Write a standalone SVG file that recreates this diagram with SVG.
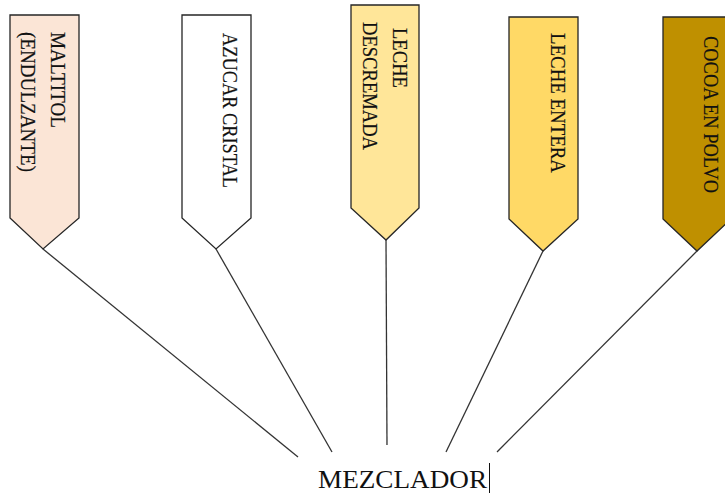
<svg xmlns="http://www.w3.org/2000/svg" width="725" height="494" viewBox="0 0 725 494">
  <style>
    .tag { stroke: #262626; stroke-width: 1.3; stroke-linejoin: miter; }
    .lbl { font-family: "Liberation Serif", "Times New Roman", serif; font-size: 22px; fill: #111111; stroke: #111111; stroke-width: 0.2; }
    .wire { stroke: #333333; stroke-width: 1.3; fill: none; }
  </style>
  <rect width="725" height="494" fill="#ffffff"/>

  <g id="maltitol">
    <polygon class="tag" fill="#FBE5D6" points="10,15 79,15 79,218 43,249 10,218"/>
    <text class="lbl" transform="translate(51,32) rotate(90)" textLength="96" lengthAdjust="spacingAndGlyphs">MALTITOL</text>
    <text class="lbl" transform="translate(21,32) rotate(90)" textLength="140" lengthAdjust="spacingAndGlyphs">(ENDULZANTE)</text>
  </g>

  <g id="azucar">
    <polygon class="tag" fill="#FFFFFF" points="182,15 251,15 251,218 216,249 182,218"/>
    <text class="lbl" transform="translate(223,33) rotate(90)" textLength="155" lengthAdjust="spacingAndGlyphs">AZUCAR CRISTAL</text>
  </g>

  <g id="leche-descremada">
    <polygon class="tag" fill="#FFE699" points="351,5 419,5 419,208 386,240 351,208"/>
    <text class="lbl" transform="translate(393,28) rotate(90)" textLength="60" lengthAdjust="spacingAndGlyphs">LECHE</text>
    <text class="lbl" transform="translate(363,22) rotate(90)" textLength="128" lengthAdjust="spacingAndGlyphs">DESCREMADA</text>
  </g>

  <g id="leche-entera">
    <polygon class="tag" fill="#FFD966" points="509,17 578,17 578,219 543,251 509,219"/>
    <text class="lbl" transform="translate(551,33) rotate(90)" textLength="140" lengthAdjust="spacingAndGlyphs">LECHE ENTERA</text>
  </g>

  <g id="cocoa">
    <polygon class="tag" fill="#BF9000" points="663,17 731,17 731,219 697,251 663,219"/>
    <text class="lbl" transform="translate(704,36) rotate(90)" textLength="157" lengthAdjust="spacingAndGlyphs">COCOA EN POLVO</text>
  </g>

  <g id="connectors">
    <line class="wire" x1="43" y1="249" x2="298" y2="457"/>
    <line class="wire" x1="216" y1="249" x2="332" y2="452"/>
    <line class="wire" x1="386" y1="240" x2="387" y2="445"/>
    <line class="wire" x1="543" y1="251" x2="446" y2="452"/>
    <line class="wire" x1="697" y1="251" x2="497" y2="452"/>
  </g>

  <g id="mezclador">
    <text x="318" y="488" font-family="Liberation Serif, Times New Roman, serif" font-size="26" fill="#111111" textLength="169" lengthAdjust="spacingAndGlyphs">MEZCLADOR</text>
    <line x1="489.5" y1="463" x2="489.5" y2="493" stroke="#111111" stroke-width="1"/>
  </g>
</svg>
